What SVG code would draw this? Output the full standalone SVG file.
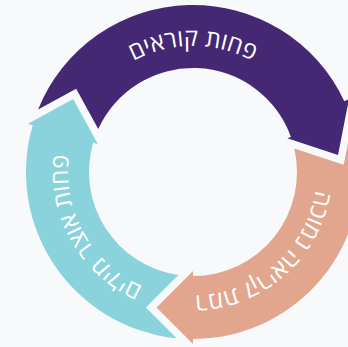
<svg xmlns="http://www.w3.org/2000/svg" width="348" height="347" viewBox="0 0 348 347">
  <style>
    .lbl { font-family: "Open Sans", "Liberation Sans", "DejaVu Sans", sans-serif; font-size: 24px; fill: #ffffff; }
    .purple { fill: #452873; }
    .salmon { fill: #e2a68e; }
    .blue { fill: #8bd3dc; }
  </style>
  <defs>
    <path id="tp-purple" d="M68.91,150.12 A126,126 0 0,1 317.09,150.12"/>
    <path id="tp-salmon" d="M300.15,107.62 A125,125 0 0,1 115.35,269.14"/>
    <path id="tp-blue" d="M234.52,289.90 A125,125 0 0,1 113.66,75.40"/>
  </defs>
  <rect x="0" y="0" width="348" height="347" fill="#f8f9fb"/>

  <g id="node-purple">
    <path class="purple" d="M38.10,109.58 A167,167 0 0,1 344.3,101.2 L349,99 L338,155 L287.3,138.3 L290.9,136.9 A104,104 0 0,0 98.26,129.11 L76.17,88.75 Z"/>
    <text class="lbl"><textPath href="#tp-purple" startOffset="50%" text-anchor="middle">פחות קוראים</textPath></text>
  </g>

  <g id="node-salmon">
    <path class="salmon" d="M352.2,121.6 A167,167 0 0,1 193,339 L193,344 L156.5,307.5 L193,271 L193,276 A104,104 0 0,0 294.31,148.5 L343.73,164.77 Z"/>
    <text class="lbl"><textPath href="#tp-salmon" startOffset="50%" text-anchor="middle">רמת קריאה נמוכה</textPath></text>
  </g>

  <g id="node-blue">
    <path class="blue" d="M176.56,338.19 A167,167 0 0,1 32.71,125.13 L27.91,123.72 L73.19,98.94 L97.98,144.21 L93.18,142.81 A104,104 0 0,0 178.42,274.97 L145.89,307.5 Z"/>
    <text class="lbl"><textPath href="#tp-blue" startOffset="50%" text-anchor="middle">פחות אוצר מילים</textPath></text>
  </g>
</svg>
